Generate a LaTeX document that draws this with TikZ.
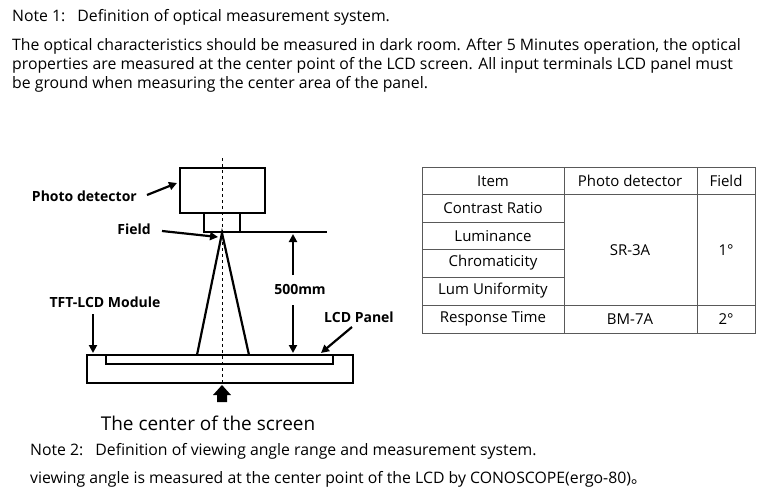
\documentclass[tikz,border=0pt]{standalone}
\usepackage{fontspec}
\setmainfont{Open Sans}
\newfontfamily\cjk{Noto Sans CJK SC}
\usetikzlibrary{arrows.meta}
\begin{document}
\begin{tikzpicture}[x=1pt,y=-1pt,
  txt/.style={anchor=west,inner sep=0,font=\fontsize{15.8}{18}\selectfont},
  lbl/.style={inner sep=0,font=\bfseries\fontsize{14}{16}\selectfont},
  tb/.style={inner sep=0,font=\fontsize{15}{17}\selectfont},
  thick2/.style={line width=2.2pt},
  arr/.style={line width=2.2pt,-{Triangle[length=8pt,width=8pt]}}]
\useasboundingbox (0,0) rectangle (780,493);
\node[txt] (n1) at (12,17) {Note 1:\hspace{12pt}Definition of optical measurement system.};
\node[txt] (p1) at (12,46) {The optical characteristics should be measured in dark room. After 5 Minutes operation, the optical};
\node[txt] (p2) at (12,65) {properties are measured at the center point of the LCD screen. All input terminals LCD panel must};
\node[txt] (p3) at (12,84) {be ground when measuring the center area of the panel.};
\node[txt] (n2) at (30,451) {Note 2:\hspace{12pt}Definition of viewing angle range and measurement system.};
\node[txt] (p4) at (30,479) {viewing angle is measured at the center point of the LCD by CONOSCOPE(ergo-80){\cjk 。}};
% diagram
\draw[thick2] (180,168) rectangle (265,213);
\draw[thick2] (204,213) rectangle (240,232);
\draw[thick2] (240,232) -- (327,232);
\draw[thick2] (87,355) rectangle (353,383);
\draw[thick2] (106,355) -- (106,364) -- (333,364) -- (333,355);
\coordinate (apex) at (222,233);
\draw[thick2] (197,355) -- (apex) -- (249,355);
\draw[dashed,line width=0.8pt] (222,158) -- (222,385);
\draw[arr] (293,275) -- (293,234);
\draw[arr] (293,305) -- (293,353);
\node[lbl] (mm) at (300,289) {500mm};
\node[lbl,anchor=east] (pd) at (137,196) {Photo detector};
\draw[arr] (147,195) -- (177,183);
\node[lbl,anchor=east] (fd) at (151,229) {Field};
\draw[arr] (162,231) -- (218,237);
\node[lbl] (tft) at (105,302) {TFT-LCD Module};
\draw[arr] (93,314) -- (93,353);
\node[lbl] (lcd) at (359,317) {LCD Panel};
\draw[arr] (352,327) -- (321,353);
\fill (217,402) -- (217,395) -- (213,395) -- (222,385) -- (231,395) -- (227,395) -- (227,402) -- cycle;
\node[inner sep=0,font=\fontsize{19}{21}\selectfont] (cs) at (208,423) {The center of the screen};
% table
\draw[line width=0.8pt,gray!70!black] (422,167) rectangle (755,333);
\foreach \y in {194,305} \draw[line width=0.8pt,gray!70!black] (422,\y) -- (755,\y);
\foreach \y in {222,249,277} \draw[line width=0.8pt,gray!70!black] (422,\y) -- (564,\y);
\foreach \x in {564,697} \draw[line width=0.8pt,gray!70!black] (\x,167) -- (\x,333);
\node[tb] (h1) at (493,181) {Item};
\node[tb] (h2) at (630,181) {Photo detector};
\node[tb] (h3) at (726,181) {Field};
\node[tb] (r1) at (493,208) {Contrast Ratio};
\node[tb] (r2) at (493,236) {Luminance};
\node[tb] (r3) at (493,263) {Chromaticity};
\node[tb] (r4) at (493,291) {Lum Uniformity};
\node[tb] (r5) at (493,319) {Response Time};
\node[tb] (s1) at (630,250) {SR-3A};
\node[tb] (s2) at (630,319) {BM-7A};
\node[tb] (f1) at (726,250) {1\char"00B0};
\node[tb] (f2) at (726,319) {2\char"00B0};
\end{tikzpicture}
\end{document}
